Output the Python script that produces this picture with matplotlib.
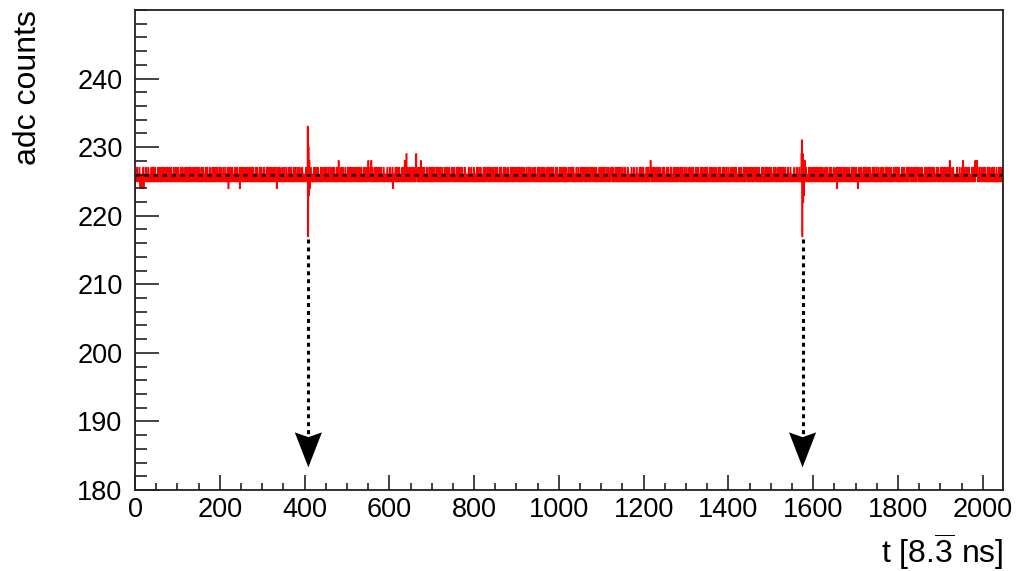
import numpy as np
import matplotlib
matplotlib.use('Agg')
import matplotlib.pyplot as plt
from matplotlib.ticker import MultipleLocator

plt.rcParams['font.family'] = ['Liberation Sans', 'DejaVu Sans']
plt.rcParams['mathtext.fontset'] = 'custom'
plt.rcParams['mathtext.rm'] = 'Liberation Sans'

# adc samples, one digit per sample = value - 220 (64 samples per row)
noise_rows = [
    "65667566 56754564 65674655 67656657 56656576 65756567 65566575 66756567",
    "56765667 56576656 75665765 66576566 75656765 56675665 76566576 56756657",
    "66575665 76656756 65766575 66567565 76656675 65765665 75666576 56756576",
    "65765667 56756656 75665765 66574566 75656765 56675665 76566574 56756657",
    "66575665 76656756 65766575 66567565 76656675 65765665 75666576 56756576",
    "56765667 56576646 75665765 66576566 75656765 56675665 76566576 56756657",
    "65667566 56756566 65675655 67656657 56656576 65756567 65566575 66756567",
    "66575665 76656756 65766575 66567565 86656675 65765665 75666576 56756576",
    "56765667 56576656 75665765 66576566 75656786 56675865 76566576 56756657",
    "65667566 56756566 65675655 67656657 46656576 65756567 65566575 66758567",
    "96575665 76656756 65766579 66567565 76856675 65765665 75666576 56756576",
    "56765667 56576656 75665765 66576566 75656765 56675665 76566576 56756657",
    "65667566 56756566 65675655 67656657 56656576 65756567 65566575 66756567",
    "66575665 76656756 65766575 66567565 76656675 65765665 75666576 56756576",
    "56765667 56576656 75665765 66576566 75656765 56675665 76566576 56756657",
    "65756675 66567656 75665756 65766565 76567566 56756675 66576565 75665676",
    "56676575 66756566 57665675 66567657 56676565 76566756 65756676 56675665",
    "76565667 56756657 66575665 76656756 65676657 56656765 67565766 57656675",
    "65667566 56756566 65675655 67656657 56656576 65756567 65566575 66756567",
    "86575665 76656756 65766575 66567565 76656675 65765665 75666576 56756576",
    "56765667 56576656 75665765 66576566 75656765 56675665 76566576 56756657",
    "65756675 66567656 75665756 65766565 76567566 56756675 66576565 75665676",
    "56676575 66756566 57665675 66567657 56676565 76566756 65756676 56675665",
    "76565667 56756657 66575665 76656756 65676657 56656765 67565766 57656675",
    "65667566 56756566 65675655 67656657 56656576 65756567 65566575 66756567",
    "66575665 76656756 65766575 66567565 76656675 65765665 75666576 46756576",
    "56765667 56576656 75665765 66576566 75656765 54675665 76566576 56756657",
    "65756675 66567656 75665756 65766565 76567566 56756675 66576565 75665676",
    "56676575 66756566 57665675 66567657 56676565 76566756 65756676 56675665",
    "76565667 56756657 66575665 76656756 65676657 56656765 67565766 57656675",
    "65867566 56756566 65675655 67656657 58656576 65756567 65566575 66756587",
    "66875665 76656756 65766575 66567565 76656675 65765665 75666576 56756576",
]

# the two pulses
pulse_starts = [406, 1572]
pulse_shapes = [
    [227, 233, 217, 230, 223, 228, 224, 226, 227, 225],
    [229, 231, 217, 229, 222, 228, 223, 227, 228, 225],
]
baseline = 226
arrow_t = [409, 1575]
arrow_from = 216.6
arrow_tip = 183.3

digits = "".join(noise_rows).replace(" ", "")
adc = np.array([220 + int(c) for c in digits], dtype=float)
for s, shape in zip(pulse_starts, pulse_shapes):
    adc[s:s + len(shape)] = shape
edges = np.arange(len(adc) + 1)

fig = plt.figure(figsize=(10.33, 5.71), dpi=100)
ax = fig.add_axes([0.1307, 0.1419, 0.8403, 0.8406])

ax.stairs(adc, edges, color='red', lw=1.1)
ax.axhline(baseline, color='black', lw=1.8, ls=(0, (1.8, 1.8)))

# dotted arrows pointing at the pulses
for t in arrow_t:
    ax.plot([t, t], [arrow_from, arrow_tip + 4.5], color='black', lw=2.2,
            ls=(0, (1.3, 1.3)))
    ax.fill([t, t - 32, t, t + 32], [arrow_tip, arrow_tip + 5.1, arrow_tip + 4.4, arrow_tip + 5.1],
            color='black', lw=0)

ax.set_xlim(0, len(adc))
ax.set_ylim(180, 250)
ax.set_yticks(range(180, 241, 10))
ax.xaxis.set_major_locator(MultipleLocator(200))
ax.xaxis.set_minor_locator(MultipleLocator(50))
ax.yaxis.set_minor_locator(MultipleLocator(2))

ax.tick_params(which='both', direction='in', top=False, right=False, width=1.2,
               labelsize=19.5, color='#222222')
ax.tick_params(axis='y', which='major', length=17, pad=9)
ax.tick_params(axis='y', which='minor', length=8.5)
ax.tick_params(axis='x', which='major', length=11, pad=5)
ax.tick_params(axis='x', which='minor', length=5)
for sp in ax.spines.values():
    sp.set_linewidth(1.3)
    sp.set_color('#222222')

ax.set_ylabel('adc counts', fontsize=23, loc='top')
ax.yaxis.set_label_coords(-0.106, 1.0)
ax.set_xlabel(r't [8.$\mathrm{\overline{3}}$ ns]', fontsize=23, loc='right')
ax.xaxis.set_label_coords(1.0, -0.085)

plt.savefig('out.png', dpi=100)
